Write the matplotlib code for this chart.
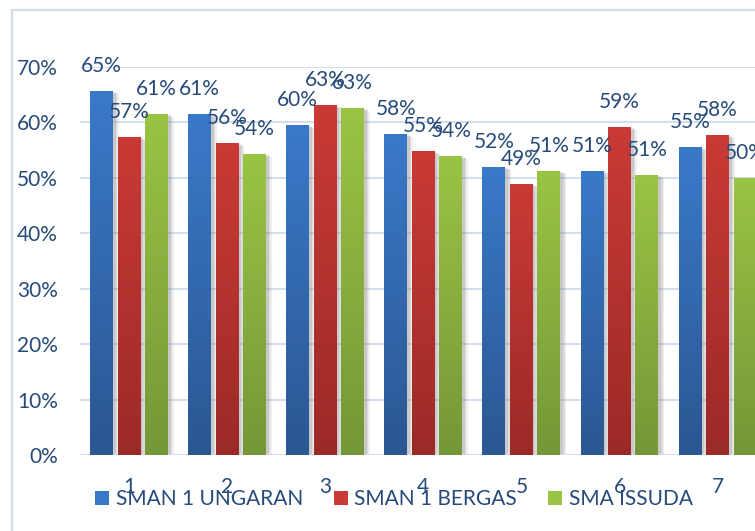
import matplotlib
matplotlib.use("Agg")
import matplotlib.pyplot as plt
import matplotlib.transforms as mtransforms
from matplotlib.colors import LinearSegmentedColormap
from matplotlib.patches import Rectangle
import numpy as np

categories = ["1", "2", "3", "4", "5", "6", "7"]
series_names = ["SMAN 1 UNGARAN", "SMAN 1 BERGAS", "SMA ISSUDA"]
ungaran = [0.656, 0.615, 0.596, 0.579, 0.520, 0.513, 0.556]
bergas = [0.573, 0.563, 0.632, 0.549, 0.489, 0.592, 0.578]
issuda = [0.615, 0.543, 0.626, 0.540, 0.513, 0.505, 0.500]
labels_u = ["65%", "61%", "60%", "58%", "52%", "51%", "55%"]
labels_b = ["57%", "56%", "63%", "55%", "49%", "59%", "58%"]
labels_i = ["61%", "54%", "63%", "54%", "51%", "51%", "50%"]
yticks = [0, 0.1, 0.2, 0.3, 0.4, 0.5, 0.6, 0.7]
ytick_labels = ["0%", "10%", "20%", "30%", "40%", "50%", "60%", "70%"]

colors = [("#3A79C9", "#2B5792"), ("#CA3A36", "#9B2A27"), ("#9AC444", "#759738")]
text_color = "#264A7A"
grid_color = "#D3DEEC"

plt.rcParams['font.family'] = ['Lato', 'DejaVu Sans']

fig = plt.figure(figsize=(7.55, 5.31), dpi=100)
ax = fig.add_axes([80/755, 76/531, (766.6-80)/755, (455-67)/531])

# border of chart area
fig.patches.append(Rectangle((12/755, -0.1), 1.2, (531-10)/531 + 0.1,
                             transform=fig.transFigure, fill=False,
                             edgecolor=grid_color, lw=1.6, zorder=0))

x = np.arange(1, len(categories) + 1)
width = 0.234
stride = 0.28
all_series = [(ungaran, labels_u), (bergas, labels_b), (issuda, labels_i)]

for i, (vals, labs) in enumerate(all_series):
    pos = x + (i - 1) * stride
    # soft shadow
    for k, (dx, dy, a) in enumerate([(4, -3, 0.12), (3, -2, 0.17), (2, -1, 0.2)]):
        tr = mtransforms.offset_copy(ax.transData, fig=fig, x=dx, y=dy, units='dots')
        ax.bar(pos, vals, width=width + 0.012 * (3 - k), color="#7f7f7f", alpha=a,
               transform=tr, zorder=1, linewidth=0)
    bars = ax.bar(pos, vals, width=width, color=colors[i][0], zorder=3,
                  linewidth=0, label=series_names[i])
    cmap = LinearSegmentedColormap.from_list("g%d" % i, [colors[i][1], colors[i][0]])
    grad = np.linspace(0, 1, 256).reshape(-1, 1)
    for b in bars:
        x0, y0 = b.get_x(), b.get_y()
        w, h = b.get_width(), b.get_height()
        im = ax.imshow(grad, extent=[x0, x0 + w, y0, y0 + h], origin='lower',
                       cmap=cmap, aspect='auto', zorder=3.5, interpolation='bicubic')
        im.set_clip_path(b)
    for p, v, lab in zip(pos, vals, labs):
        ax.annotate(lab, (p, v), xytext=(0, 18), textcoords='offset points',
                    ha='center', va='center', fontsize=15, color=text_color, zorder=5)

ax.set_xlim(0.5, 7.5)
ax.set_ylim(0, 0.7)
ax.set_yticks(yticks)
ax.set_yticklabels(ytick_labels)
ax.set_xticks(x)
ax.set_xticklabels(categories)
ax.tick_params(axis='both', length=0, labelsize=15, labelcolor=text_color)
ax.tick_params(axis='y', pad=16)
ax.tick_params(axis='x', pad=16)
ax.yaxis.grid(True, color=grid_color, lw=1.4, zorder=0)
ax.set_axisbelow(True)
for s in ax.spines.values():
    s.set_visible(False)
ax.axhline(0, color=grid_color, lw=1.4, zorder=2)

handles, lbls = ax.get_legend_handles_labels()
leg = fig.legend(handles, lbls, loc='center', bbox_to_anchor=(394/755, 32/531),
                 ncol=3, frameon=False, fontsize=15, handlelength=0.67,
                 handleheight=0.67, handletextpad=0.3, columnspacing=1.5,
                 labelcolor=text_color, borderpad=0)

fig.savefig("out.png", dpi=100)
